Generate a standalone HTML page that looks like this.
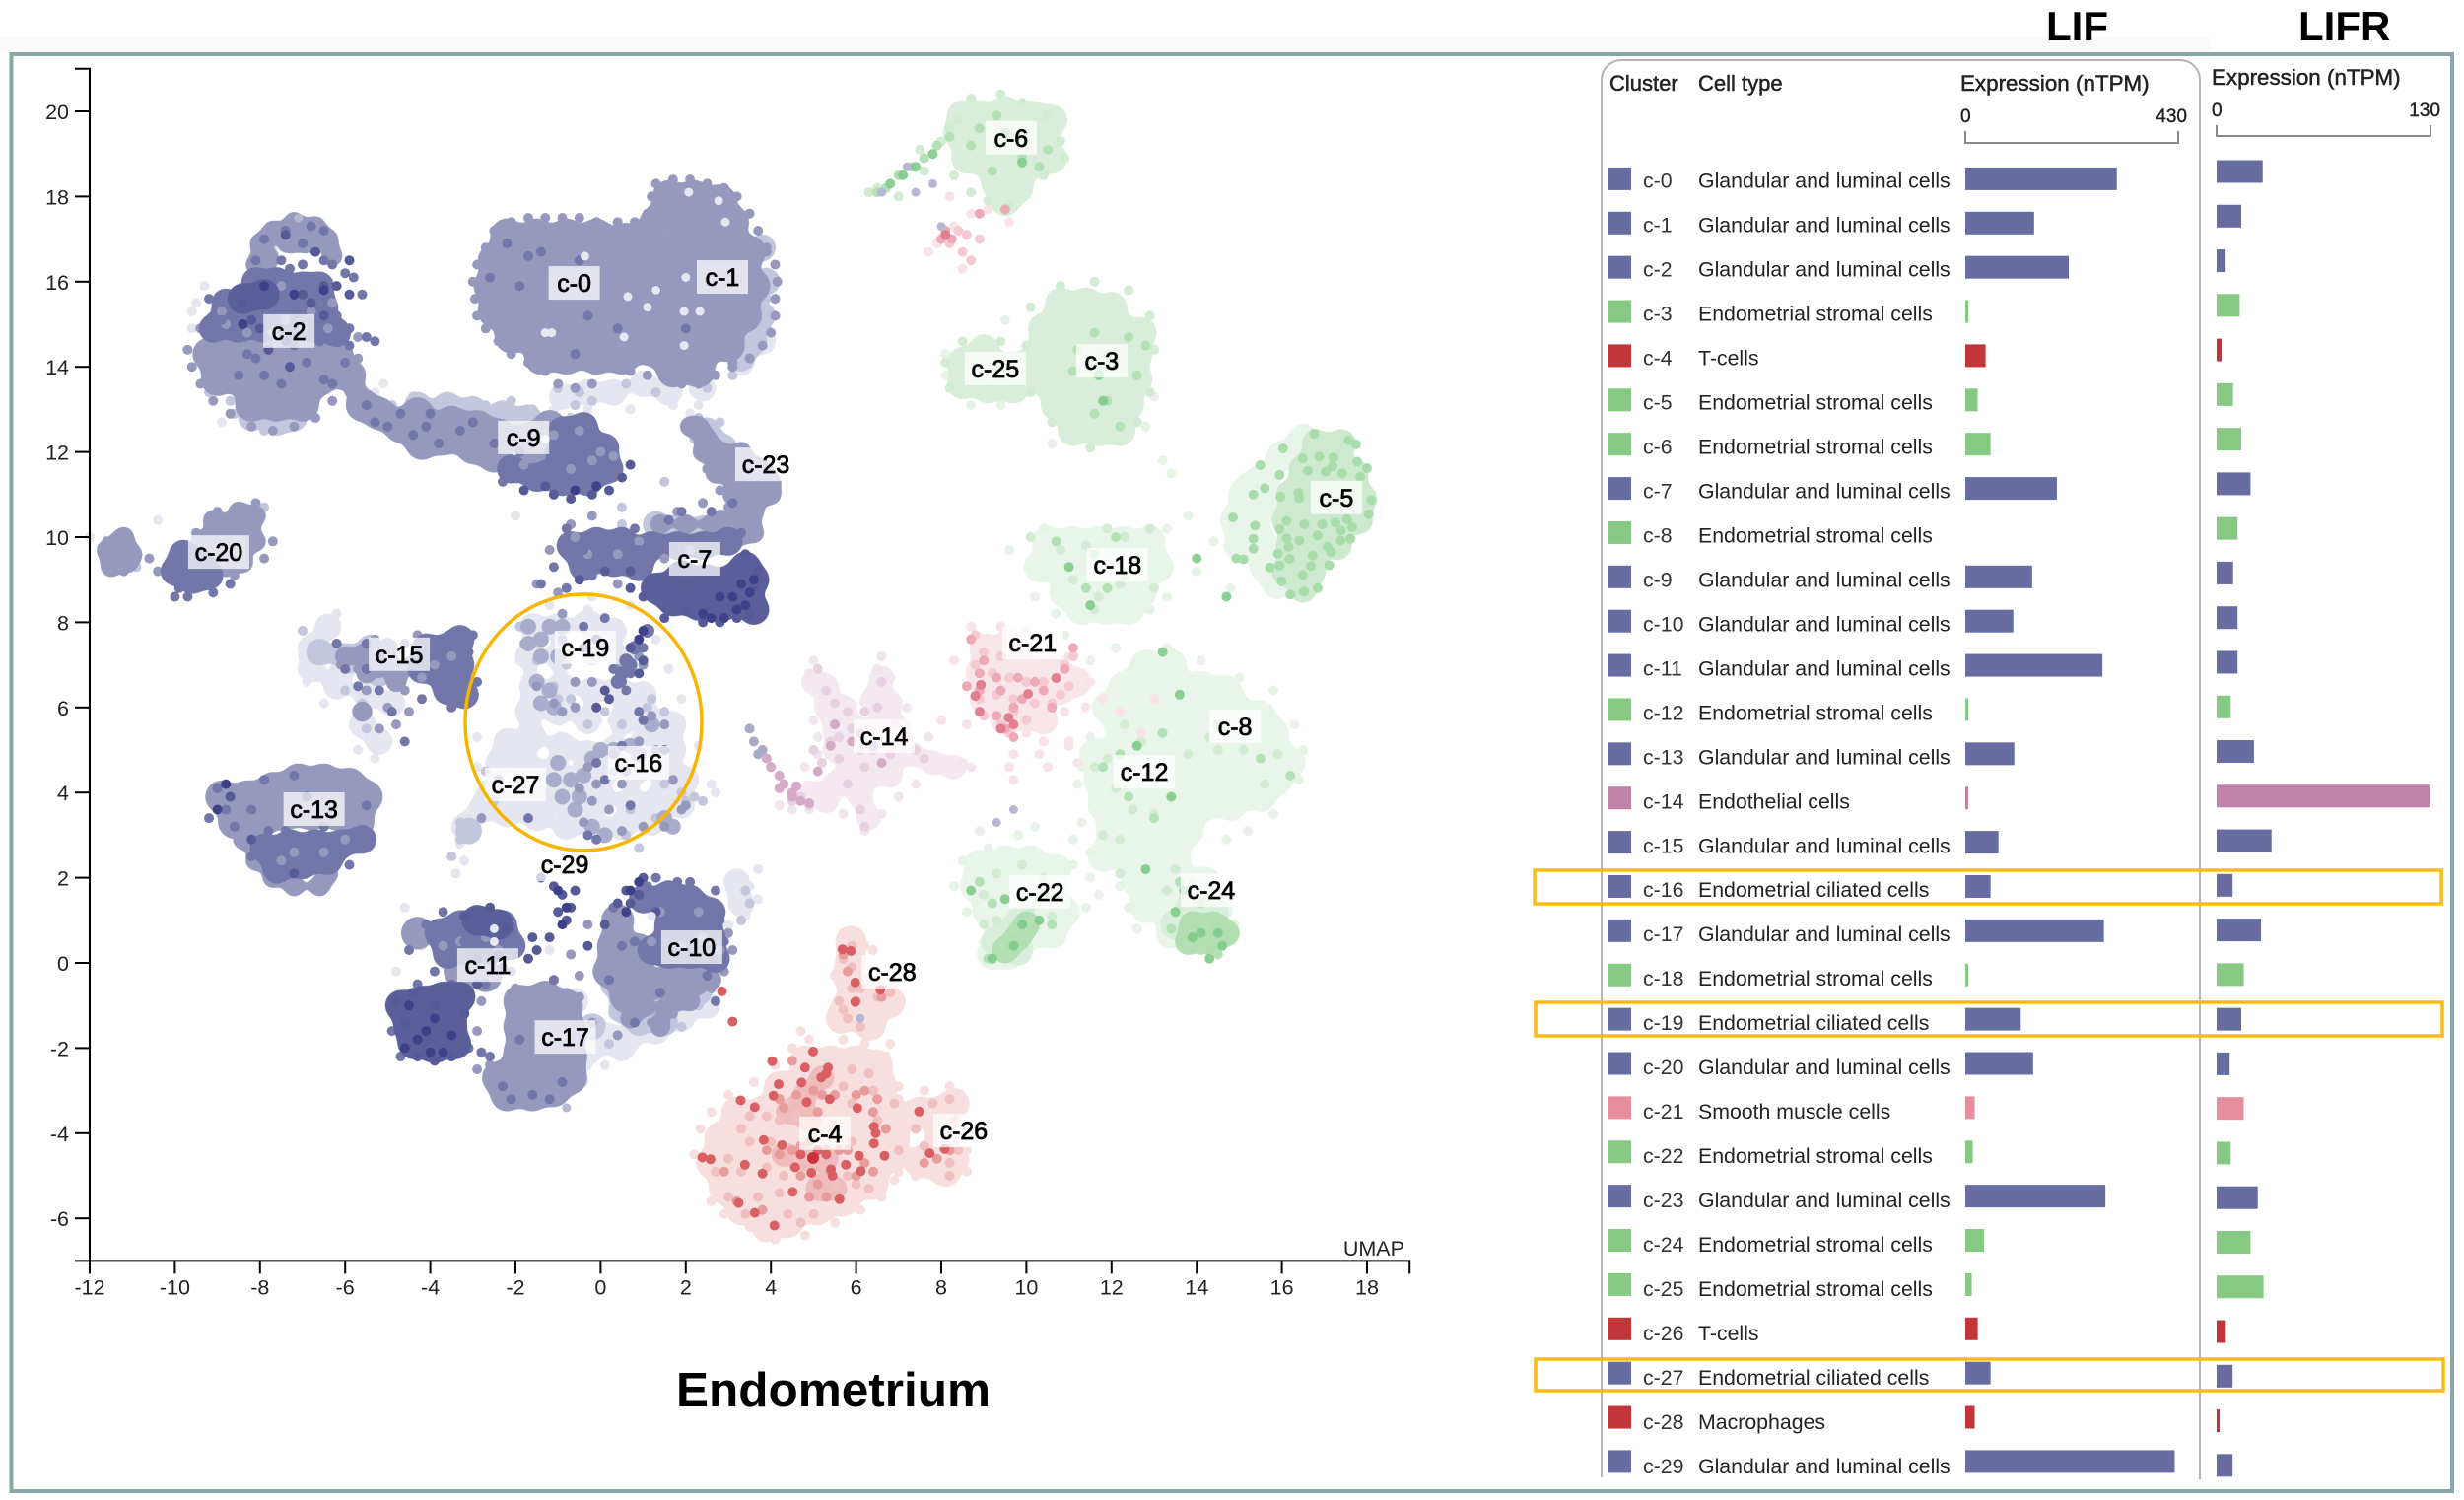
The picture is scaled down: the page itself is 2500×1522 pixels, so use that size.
<!DOCTYPE html>
<html lang="en">
<head>
<meta charset="utf-8">
<title>Endometrium UMAP with LIF and LIFR expression</title>
<style>
html,body{margin:0;padding:0;background:#fff}
svg{display:block;font-family:"Liberation Sans",Arial,sans-serif}
</style>
</head>
<body>
<svg id="root" width="2500" height="1522" viewBox="0 0 2500 1522">
  <defs>
    <filter id="merge" filterUnits="userSpaceOnUse" x="0" y="0" width="2500" height="1522" color-interpolation-filters="sRGB">
      <feGaussianBlur in="SourceGraphic" stdDeviation="5"/>
      <feColorMatrix values="1 0 0 0 0 0 1 0 0 0 0 0 1 0 0 0 0 0 18 -8"/>
    </filter>
  </defs>
  <rect x="0" y="0" width="2500" height="1522" fill="#ffffff"/>
  <rect x="0" y="38" width="2243" height="15" fill="#fafafa"/>
  <rect x="11.5" y="55" width="2476.5" height="1458" fill="none" stroke="#8ba6a6" stroke-width="4"/>
  <g id="scatter"></g>
  <g id="axes"></g>
  <g id="labels"></g>
  <ellipse cx="592" cy="733" rx="120" ry="130" fill="none" stroke="#f7b500" stroke-width="3.5"/>
  <text x="686" y="1427" font-size="49.5" font-weight="700" fill="#000">Endometrium</text>
  <text x="2076" y="41" font-size="42" font-weight="700" fill="#000">LIF</text>
  <text x="2332" y="41" font-size="42" font-weight="700" fill="#000">LIFR</text>
  <path d="M1625 1499V81a20 20 0 0 1 20-20H2212a20 20 0 0 1 20 20V1501" fill="none" stroke="#b4b4b4" stroke-width="2"/>
  <text x="1633" y="92" font-size="22" fill="#222" stroke="#222" stroke-width=".5">Cluster</text>
  <text x="1723" y="92" font-size="22" fill="#222" stroke="#222" stroke-width=".5">Cell type</text>
  <text x="1989" y="92" font-size="22.4" fill="#222" stroke="#222" stroke-width=".5">Expression (nTPM)</text>
  <text x="2244" y="86" font-size="22.4" fill="#222" stroke="#222" stroke-width=".5">Expression (nTPM)</text>
  <g id="table"></g>
  <rect x="1557" y="883" width="920" height="34" fill="none" stroke="#fdbb0e" stroke-width="3.5"/>
  <rect x="1558" y="1017" width="920" height="34" fill="none" stroke="#fdbb0e" stroke-width="3.5"/>
  <rect x="1558" y="1379" width="921" height="32" fill="none" stroke="#fdbb0e" stroke-width="3.5"/>
</svg>
<script>
/* ---------- axis values ---------- */
const xTicks = [-12,-10,-8,-6,-4,-2,0,2,4,6,8,10,12,14,16,18];
const yTicks = [20,18,16,14,12,10,8,6,4,2,0,-2,-4,-6];

/* ---------- table values ---------- */
const clusterNames = ["c-0","c-1","c-2","c-3","c-4","c-5","c-6","c-7","c-8","c-9","c-10","c-11","c-12","c-13","c-14","c-15","c-16","c-17","c-18","c-19","c-20","c-21","c-22","c-23","c-24","c-25","c-26","c-27","c-28","c-29"];
const cellTypes = ["Glandular and luminal cells","Glandular and luminal cells","Glandular and luminal cells","Endometrial stromal cells","T-cells","Endometrial stromal cells","Endometrial stromal cells","Glandular and luminal cells","Endometrial stromal cells","Glandular and luminal cells","Glandular and luminal cells","Glandular and luminal cells","Endometrial stromal cells","Glandular and luminal cells","Endothelial cells","Glandular and luminal cells","Endometrial ciliated cells","Glandular and luminal cells","Endometrial stromal cells","Endometrial ciliated cells","Glandular and luminal cells","Smooth muscle cells","Endometrial stromal cells","Glandular and luminal cells","Endometrial stromal cells","Endometrial stromal cells","T-cells","Endometrial ciliated cells","Macrophages","Glandular and luminal cells"];
const lifValues = [306,139,209,6,41,25,51,185,0,135,97,277,6,99,6,67,51,280,6,112,137,19,15,283,38,13,25,51,19,423];
const lifrValues = [28,15,5.5,14,3,10,15,20.6,12.7,10,12.7,12.7,8.6,22.7,130,33.4,9.7,27,16.5,15,7.9,16.5,8.6,25,20.6,28.5,5.6,9.7,1.8,9.7];

/* ---------- cluster label positions, UMAP units ---------- */
const labelU = [-.62,2.86,-7.32,11.77,5.27,17.28,9.64,2.21,14.9,-1.81,2.14,-2.65,12.77,-6.73,6.66,-4.73,.89,-.83,12.14,-.36,-8.97,10.15,10.32,3.88,14.34,9.27,8.53,-2,6.85,-.84];
const labelV = [15.97,16.11,14.84,14.14,-4,10.93,19.38,9.49,5.56,12.34,.37,-.05,4.49,3.61,5.32,7.25,4.7,-1.74,9.35,7.41,9.65,7.52,1.67,11.71,1.71,13.96,-3.94,4.19,-.21,2.31];

/* ---------- UMAP points: flat u,v lists ---------- */
const bluePaleCloud = [-1.6,7.9,-1,7.9,-.3,8,.3,7.8,-1.7,7.2,-1,7.2,-.2,7.3,.5,7.1,-1.6,6.5,-.9,6.5,-.2,6.4,.4,6.4,1,6.3,-1.7,5.9,-1,5.9,-.3,5.7,.5,5.7,1.2,5.7,1.7,5.6,-2.2,5.2,-1.6,5.3,-.9,5.1,-.3,4.9,.3,5,1,5.1,1.7,5,-2.4,4.7,-1.7,4.6,-1.1,4.5,-.5,4.3,.1,4.5,.8,4.5,1.5,4.5,2,4.3,-2.6,4,-1.9,4,-1.2,3.9,-.6,3.7,0,3.9,.7,3.8,1.4,3.9,1.9,3.7,-2.2,3.5,-1.5,3.4,-.8,3.2,-.2,3.3,.5,3.2,1.2,3.3,-3.2,3.2,-2.8,3.6,
-6.8,7.4,-6.4,7.9,-6.8,6.9,-6.2,6.5,-5.5,6.3,-6,7,-5.6,5.6,-5.2,5.2,-4.9,6.1,-.9,13.3,-.3,13.4,.3,13.4,1,13.6,1.6,13.4,2.4,13.5,3.3,14.1,3.8,14.6,3.2,1.9,3.3,1.4,.1,-1.7,.7,-1.7,1.3,-1.6,1.9,-1.3,.5,-2,-.2,-2,-.6,-.9,-.5,-2.3,2.5,-1];
const blueLightCloud = [3.6,14.6,3.8,15.2,3.9,16,3.8,16.8,3.3,14.2,.5,-1.1,1.1,-1,1.7,-.8,2.3,-.7,.3,-.5,.9,-1.4,1.5,-1.4,-3.1,3.1,-3.6,13.1,-3,13,-2.3,12.9,-1.7,12.8,-4.3,13.1,2.5,12.5,2.9,12.1,1.3,10.3,1.8,10.2,2.4,10.2,3,10.1,3.5,10.2,-8.2,12.8,-7.6,12.7,-7.2,12.8,-6.6,7.3,-6,7.2,-5.4,7.4,-5.2,6.8,-.2,-1.5];
const blueMainCloud = [-2.2,17.1,-1.5,17.1,-.8,17.1,-.1,17.1,.6,17,-2.5,16.5,-1.8,16.5,-1.1,16.5,-.4,16.5,.3,16.5,1,16.5,-2.6,15.9,-1.9,15.9,-1.2,15.9,-.5,15.9,.2,15.9,.9,15.9,-2.5,15.3,-1.8,15.3,-1.1,15.3,-.4,15.3,.3,15.3,1,15.3,-2.1,14.7,-1.4,14.7,-.7,14.7,0,14.7,.7,14.7,-1.4,14.2,-.8,14.2,-.1,14.2,.5,14.2,
1.6,18,2.2,18,2.8,17.9,1.3,17.4,1.9,17.4,2.5,17.4,3.1,17.4,1.2,16.8,1.8,16.8,2.4,16.8,3,16.8,3.5,16.7,1.5,16.2,2.1,16.2,2.7,16.2,3.3,16.2,3.6,15.9,1.5,15.6,2.1,15.6,2.7,15.6,3.3,15.6,1.2,15,1.8,15,2.4,15,3,15,3.4,15.2,1.2,14.4,1.8,14.4,2.4,14.4,3,14.5,1.7,13.9,2.3,13.9,
-8.2,13.1,-7.6,13.1,-7,13.1,-9,13.7,-8.4,13.7,-7.8,13.7,-7.2,13.7,-6.6,13.7,-9.2,14.3,-8.6,14.3,-8,14.3,-7.4,14.3,-6.8,14.3,-6.2,14.3,-5.9,13.8,
-5.6,13.1,-5.2,12.9,-4.7,12.6,-4.3,12.9,-4.2,12.2,-3.7,12.3,-3.5,12.7,-3,12.1,-2.9,12.6,-2.4,12.4,-2.5,11.9,-1.7,12.3,-1.2,12.6,-1.5,11.8,
-8.9,3.9,-8.3,3.9,-7.7,4.1,-7.1,4.3,-6.5,4.3,-5.9,4.2,-5.5,3.9,-8.6,3.3,-8,3.3,-7.4,3.5,-6.8,3.5,-6.2,3.5,-5.7,3.3,
-1.9,-.9,-1.3,-.8,-.8,-1,-1.9,-1.5,-1.3,-1.5,-.7,-1.6,-1.9,-2.1,-1.3,-2.2,-.7,-2.2,-2.4,-2.7,-1.8,-2.7,-1.2,-2.7,-.7,-2.7,-2.2,-3.1,-1.6,-3.1,-1.1,-3,
.4,1,.3,.4,.2,-.2,.8,-.3,.9,.3,.6,-.8,1.2,-.5,1.7,-.4,2.2,-.4,-4.3,.7,-3.3,-.2,-2.7,-.3];
const blueMainMid = [2.5,12.3,2.8,12,3,11.6,3.3,11.3,3.7,11.1,4,11,3.5,10.7,3.3,10.3,2.8,10.4,2.3,12.6,2.1,12.6,2.4,12,2.7,11.5,3.1,11,3.6,10.6,4,11.3,3.8,11.6,3.5,11.7,3.3,12,3.6,10.1,3.2,10,
-11.4,9.6,-11.1,9.4,-11.3,9.9,-11.5,9.3,-11.6,9.7,-11.2,10,-11,9.6,-9,9.8,-8.5,9.8,-8.1,9.9,-8.8,10.2,-8.3,10.3,-8.6,9.5,-8.1,10.5,-9.4,9.9,-8.8,9.3,-8.4,9.4,-9.1,10.4,-8.5,10.6,
-8.1,16.4,-8,16.9,-7.7,17.2,-7.2,17.4,-6.7,17.3,-6.4,17,-6.3,16.6,-7.8,16.5,-7.3,16.9,-6.9,16.9,
-6,7.2,-5.5,7.3,-5.5,6.8,-5,7,-4.8,6.6,-4.4,7,-5,7.4,-5.6,5.9,
-7.7,2,-7.2,1.8,-7.5,2.3,-6.6,1.8,-6.4,2.1,-8.4,2.9,-8.1,2.4,-7.9,2.7,
1,-1,1.6,-1,2.1,-.9,1.4,-1.5,.7,-1.3,2.6,-.4,
1.4,10.3,2,10.3,2.6,10.3];
const blueMainPatch = [-1,4.7,-1.1,4.3,-.7,4.3,-.9,3.9,-.5,3.9,-.6,3.6,-.4,4.4,-.2,4.8,0,5,.3,5,-1.5,6.6,-1.2,6.4,-1.4,6.1,-1.1,6,-1.7,7.9,-1.4,7.6,-1.7,7.5,-1.2,7.9,-1.4,7.2,-1,7.2,-.9,7.9,.7,5.1,.9,4.9,1.2,5.6,1.5,3.4,1.7,3.2,.1,3,-.2,3.2];
const blueDeepCloud = [-9.1,14.9,-8.5,14.9,-7.9,14.9,-7.3,14.9,-6.7,14.9,-6.2,14.8,-8.8,15.5,-8.2,15.5,-7.6,15.5,-7,15.5,-6.5,15.4,-8.1,16,-7.6,16,-7,15.9,-6.6,15.9,
-.7,9.8,-.1,9.9,.5,9.9,-.4,9.3,.3,9.4,.9,9.3,1.2,9.8,1.8,9.8,2.4,9.8,3,9.9,
-2.1,11.6,-1.5,11.4,-.9,11.3,-.3,11.3,.2,11.6,-1,11.9,-.4,12,.1,12.1,-.9,12.5,-.4,12.6,
-4.2,6.9,-3.7,6.8,-3.3,7,-3.6,7.4,-4.1,7.4,-3.3,7.6,-3.6,6.4,-3.2,6.3,
-3.8,.7,-3.3,.9,-2.8,1,-2.3,.9,-3.6,.2,-3.1,.3,-2.6,.3,-2.1,.4,
1,1.5,1.6,1.6,2.1,1.5,2.6,1.2,2.1,.9,1.6,.9,2.6,.6,1.2,.3,1.6,.2,2.1,.2,2.7,.1,
-7.9,2.7,-7.3,2.8,-6.7,2.8,-6.1,2.8,-5.6,2.9,-7.6,2.2,-7,2.3,-6.4,2.4,-10,9.2,-9.6,9,-9.2,9.1,-9.8,9.6,-9.4,9.4];
const blueDeepMid = [.5,6.8,.6,7.1,.8,7.4,.4,6.6,.7,7,1.1,7.8];
const blueOverDots = [-1.1,12.4,-.5,12.5,0,12,-1.4,11.9,-.7,11.6,-1.8,11.7,-.2,11.8,.3,11.9,-8.8,15,-8.3,14.8,-7.7,14.8,-7,14.9,-6.4,14.9,-6.8,15.3,-7.4,15.1,-6.3,15.5,-7.5,15.9,-8.9,15.3,1.2,.5,1.9,.4,2.4,.6,1.4,1.2,2.3,1.2,2.8,.3,-.3,9.6,.4,9.6,.9,9.9,1.5,9.5,2.1,9.7,-.6,10,-3.9,7,-3.5,7.2,-4.2,6.7,-7.2,2.6,-6.5,2.6,-6,2.9,-7.5,2.4,-3.3,.5,-2.7,.6,-3.7,.4,-2.4,.3];
const blueDarkCloud = [1.3,8.8,1.9,9.1,2.5,9,3.1,9,3.4,9.3,1.7,8.5,2.3,8.4,2.9,8.4,3.4,8.6,-4.7,-1,-4.2,-.9,-3.7,-.8,-3.3,-.8,-4.5,-1.5,-4,-1.5,-3.5,-1.4,-4.4,-1.9,-3.9,-2,-3.4,-1.9,-2.9,1,-2.4,.9,-8.4,15.6,-7.9,15.7,3.6,8.3,3.6,9];
const bluePaleDots = [-1.9,7.1,-1.2,8.4,-.2,8.6,.7,8.4,1.3,7.6,1.6,6.9,1.9,6.2,2.3,5.1,2.6,4.2,2.7,4,-2.9,5.3,-2.9,4.6,-3.2,2.4,-3.3,2.8,-3.4,2.1,-6.2,8.2,-7,7.2,-6.9,6.6,-6.5,6.1,-5.7,5,-5.3,4.8,-.3,8.3,3.7,2.2,3.5,1.8,3.7,1.5,3.4,1.1,3,.9,.1,-2.4,-.3,-2.4,-1.2,.3,-1.1,13,-.3,13,.7,13,1.7,13.1,2.1,12.9,2.3,13.1,-4.8,-.2,-4.2,.4,-4.6,1.3,-8.9,12.7,-9.6,14.9,-9.5,15.5,-9.3,15.9,-9.6,15.3,-5.1,13.6,-5.3,13.4,-5.2,13,-2,10.5,-12,10,-10.4,10.4,-.4,-2.8];
const blueLightDots = [-1.9,7.9,-1.8,7.5,-1.5,7.1,-.9,7.5,-.8,7,-1.1,6.5,-1,6.2,-.7,6.2,-.3,5.6,.1,5.9,.5,5.6,.9,5.2,1.1,6,1.5,5.9,1.2,6.2,.9,4.9,1.5,4.2,1.9,4,2,3.8,2.2,3.9,2.4,3.8,.3,4.5,.7,3.6,1.3,3.4,-2.7,4.5,-2.5,3.8,-3.3,3.3,-3,3,-3.3,2.9,-3.5,2.5,-.6,3.6,-.2,3.2,.6,3,.9,2.7,
-7,7.8,-6.6,7.1,-6.2,7.5,-5.9,6.9,-5.6,6.1,-5.5,5.5,-6,6.4,-5.4,7.6,3.4,1.7,3.5,1.4,3.3,1,.2,-1.9,.8,-1.5,1.3,-1.1,1.9,-1.5,2.3,-1,.3,-1.2,
3.7,16,3.9,15.6,4,15.2,3.9,14.9,3.5,14.2,3.1,13.8,2.5,13.5,1.3,13.4,.6,13.6,-.5,13.4,-1,13.5,-.6,13.1,-.2,13.2,-8.6,12.9,-7.9,12.5,-5.2,13.2,-4.9,13.1,-4.4,13.3,-2.7,13.1,-2.1,13.2,-1.6,13,-.7,12.8,-9,15.2,-9.4,14.2,-9.2,13.4,-8.7,13.2,2.3,12.8,2.2,12.3,2.8,12.7,1.5,11.3,.5,10.7,.5,10.3,1.7,10.4,-11.7,9.6,-11.5,9.2,-10.9,9.3,-11.4,10,-7.9,10.7,-8.6,10.6,-8.9,10.5];
const blueMainDots = [-2.6,16,-2.4,16.5,-2.1,17,-1.9,16.6,-1.7,17.1,-1.5,16.6,-1.3,17.3,-1.1,16.9,-.9,17.3,-.7,16.7,-2,15.9,-1.6,16.2,-1.3,16.3,-.9,16.4,-1.1,17.1,-.6,17.2,-.3,17.3,-2.5,15.7,-1.9,16.2,-.1,15.1,.1,15.5,-.9,14.4,-.3,14.1,1.6,15.2,2.3,15.3,2.9,14.9,1.8,14.6,2.4,13.9,3.1,14.1,.9,17,1.2,16.8,1.5,16.1,2.8,15.6,3.4,15.6,3.9,16.7,
-3,16,-2.95,15.6,-2.9,15.2,-2.7,14.9,-2.4,14.6,-2.1,14.3,-1.7,14.1,-1.3,13.9,-1,13.6,-.6,13.5,-.2,13.6,-2.9,16.4,-2.7,16.8,-2.5,17.2,-2.1,17.4,-1.7,17.5,-1.3,17.5,-.9,17.5,-.5,17.5,-.1,17.4,.4,17.4,.8,17.4,1.1,17.6,1.2,18,1.3,18.3,1.7,18.4,2.1,18.4,2.5,18.3,2.9,18.2,3.2,18,3.5,17.6,3.7,17.2,3.9,16.8,4.1,16.4,4.15,16,4.1,15.6,4.1,15.2,4,14.8,3.8,14.5,3.5,14.2,3.1,14,2.7,13.8,2.3,13.6,1.9,13.6,1.5,13.8,1.1,13.8,.7,13.9,
-9.7,14.4,-9.6,14,-9.4,13.6,-9.1,13.2,-8.7,12.9,-8.2,12.6,-7.7,12.5,-7.2,12.6,-6.7,12.8,-6.3,13.2,-5.9,13.4,-5.7,14.2,-5.7,14.7,-9.4,14.9,
-.9,7.6,-1.5,6.5,-1.1,6.1,-.9,5.9,-.6,6,-.6,6.6,-.2,6.6,.4,6.9,.1,7.4,.9,7.2,1,7,1.2,5.8,1.5,5.6,1.3,5,.9,5.2,.3,4.9,.5,4.2,.2,3.6,.5,3.1,1,3.2,1.5,3.2,1.9,3.6,2,3.7,-.3,4.6,-.1,4.2,-.5,4.1,-.2,3.8,-.4,3.3,-2.4,4.3,-2.8,3.4,.6,4.5,1.7,4.3,
-5.9,7.3,-6.1,7,-5.7,6.9,-5.4,7.2,-5.2,6.8,-5,7.4,-4.8,6.7,-4.6,6.4,-5.5,6.4,-5,6,-4.5,5.9,-4.8,5.6,-5.2,5.5,-5.3,7.6,-4.6,7.5,-4.3,7.7,
2.5,11.6,2.9,11.9,2.8,11.1,3.1,10.6,3.6,10.4,3.4,10.9,4,11.4,.4,8.9,1.8,10.6,2.4,10.8,3,10.7,2.9,10.4,-1.2,9.7,-.7,10.3,-.2,10.5,-1.5,8.9,-1,8.7,-.9,8.2,
-9.5,10.1,-9,10.6,-8.4,10.5,-8.1,10.8,-7.7,9.9,-7.9,9.5,-8.6,9.1,-11.4,9.4,-11.6,9.9,-11.2,9.2,-10.6,9.5,-10.4,9.2,-.3,.9,-.7,.2,-.5,-.3,-.5,-.8,-2.1,-.2,-2,-.6,-1.5,-.9,-1.1,-.4,-.8,-.7,-.2,-1.4,.4,-1.7,.9,-1.2,1.2,-1.4,1.7,-1.2,2,-.9,2.6,-.6,2.9,-.2,3.1,.3,3,.7,-3.1,-.6,-3.4,-1.2,-2.8,-.9,-2.9,-1.6,-.5,-2.1,-.5,-2.7,-2.6,-2.4,-2.9,-2.5];
const blueDeepDots = [-2.2,16.9,-1.7,16.6,-1.4,16.7,-.5,16.5,-2.6,16.1,-1.9,15.9,-.3,15.2,.4,14.9,-.6,14.3,1.3,15.8,2,14.9,
-9.2,15.6,-8.9,15.1,-8.3,14.3,-7.9,13.8,-7.2,14.5,-6.6,14.6,-6.2,15.2,-5.9,14.9,-5.9,14.5,-6,14.1,-6.3,13.6,-8.1,14.2,-7.5,13.6,-6.9,14.1,-6.5,13.7,-8.5,13.8,-6.3,16.4,-6,16.2,-5.8,16.1,-5.6,15.7,-7.9,17,-7.4,17.2,-7,16.9,-6.8,17.3,-6.5,17.2,-7.5,16.5,-7.3,16.3,-7,16.4,-6.5,16.5,-8.1,16.5,-5.5,14.7,-5.3,14.6,
-5.5,13.1,-5.3,12.7,-5,12.6,-4.7,12.9,-4.4,12.4,-4.1,12.6,-3.8,12.2,-3.3,12.5,-3,12.7,-2.5,12.2,-4,12.9,-2.3,11.3,-1.9,12,
-.8,10.2,-.4,9.7,.1,10,.8,10.2,-.2,9.1,.9,9.7,1.6,10.4,1.9,10.6,2.6,10.6,3.3,10.1,3.1,10.8,-1.1,9.3,-1.4,8.9,-.8,8.8,
-.4,7.9,-.4,7.4,.1,8.1,-.1,7.6,.3,6.9,.5,6.6,.6,6.4,.7,6.8,1,7.4,1,5.7,.5,5.1,.9,5.9,1.5,5,-.1,4.7,.1,4.3,.7,3.7,-.3,3,-.1,2.9,-1.7,3.4,
-6.2,7.5,-6,6.9,-5.5,6.9,-5.2,7.2,-5.2,6.4,-4.9,5.9,-4.6,5.2,-4.2,6.2,-3.5,6,-2.9,6.6,-3.1,7.3,-3,7.7,-5.7,6.5,-5.5,7.5,
-9,4.1,-8.8,3.6,-9.2,3.4,-8.6,3.2,-8.2,3.6,-7.9,4.3,-7.4,3.1,-7.2,4.4,-6.9,2.6,-6.5,2.2,-5.9,2.3,-5.5,3.7,-6.5,3.2,-7.6,2,-8.2,2.5,-7.8,3.1,
-9.9,8.8,-9.7,8.6,-9.5,9,-9.1,8.7,-8.7,8.9,-10,8.6,-9.4,9.6,-9.8,9.3,-10.2,9.3,
-4.9,-1,-4.3,-.5,-4.5,.3,-4.1,.9,-3.7,1.2,-3.2,.5,-2.7,-.5,-3.9,-.2,-4.9,-1.6,-4.7,-2.2,-3.1,-2,-2.6,-2.2,-3.5,-.5,-2.8,-2.1,-2.3,-.1,
-2.3,-2.9,-2.1,-3.2,-1.6,-3.1,-1.2,-3.2,-.9,-2.8,-1.1,-.4,-1.9,-1.8,
.3,1.3,.5,.4,.2,-.4,.8,.5,1.1,1.8,1.3,2,1.8,1.9,2.1,1.9,2.7,1.7,2.8,1,2.9,.5,2.5,-.3,2.7,-.9,1.4,-.7,.8,-1.4];
const blueDarkDots = [-8.4,15.5,-8.2,15.1,-8,14.9,-7.3,14,-7,15.7,-6.8,15.5,-6.5,15.9,-6.2,15.9,-5.9,15.7,-6.5,15.2,-5.9,16.5,-6.7,16.7,-7.4,17.1,-7.8,14.4,-7.4,14.6,
-1.1,11,-.7,10.9,-.2,11,.2,11.1,-1.8,11.1,-1.3,11.2,.5,11.4,.7,11.7,
2,8.3,2.4,8,2.8,8,3.2,8.1,3.5,8.2,3.6,8.8,3.7,9.2,3.4,9.6,1.5,8.1,1,8.6,.7,8.8,.1,9.2,.7,9.2,-.5,9,
.1,6.4,.9,6.8,1,7.1,.2,6.2,-.1,6,.7,7.4,
-4.8,-.9,-4.6,-1.4,-4.3,-2.2,-3.9,-2.3,-3.5,-2.2,-4.4,-.7,-3.9,-1,-3.2,-1.2,-2.9,-.5,-2.9,.1,-3.2,1.1,-2.6,1.3,-2.2,.8,-2.4,.2,-1.7,.1,-1.6,.6,
-1.4,2,-1.1,1.8,-.9,1.6,-.7,1.3,-1,1.2,-.6,1.7,-.8,1,-1.2,.6,-1.5,.3,.4,1.4,.7,1.4,1,2,.9,1.6,1.3,1.2,.6,1.7,.1,.9,-.3,.4,
-8.7,3.9,-8.2,2.9,-7.2,2.1,-6.9,3.9];
const blueDeepestDots = [2.6,8.1,2.9,8.1,3.2,8.3,3.4,8.4,3.5,8.7,3.6,9,3.1,8.6,2.8,8.6,3.3,8.9,2.4,8.2,.9,7.6,1,7.8,-4.6,-2,-4.3,-1.8,-4,-2.1,-4.1,-1.6,-3.7,-2.1,-4.5,-1,-3.9,-1.3,-3.5,-1.7,-7.9,15.9,-8.4,15,-7.2,15.7,-6.5,15.8,-1,1.7,-.8,1.3,-.9,.9,.7,1.7,.9,1.9,.6,1.2,-9,3.6,-8.8,4.2,-.6,11.1,-.1,11.2];
const blueHoleDots = [2.07,18.1,2.77,17.9,2.93,17.4,2,16.1,1.96,15.3,2.33,15.3,1.96,14.5,.64,15.65,-1.3,14.8,-1.15,14.8,-.37,16.6,.55,14.7,1.1,15.4,1.3,15.8,-1.3,12.3,-2.5,.8,-2.5,.5,1.2,1.1];

const greenFaintCloud = [12.8,7,13.4,7,12.3,6.5,12.9,6.5,13.5,6.5,14.1,6.5,14.7,6.4,11.9,6,12.5,6,13.1,6,13.7,6,14.3,6,14.9,6,15.5,5.8,12.2,5.5,12.8,5.5,13.4,5.5,14,5.5,14.6,5.5,15.2,5.5,15.8,5.4,11.6,4.9,12.2,4.9,12.8,4.9,13.4,4.9,14,4.9,14.6,4.9,15.2,4.9,15.9,4.9,16.2,4.7,11.7,4.3,12.3,4.3,12.9,4.3,13.5,4.3,14.1,4.3,14.7,4.3,15.3,4.3,15.9,4.3,11.8,3.7,12.4,3.7,13,3.7,13.6,3.7,14.2,3.7,14.8,3.7,15.5,3.9,12,3.1,12.6,3.1,13.2,3.1,13.8,3.1,11.8,2.5,12.4,2.5,13,2.5,13.5,2.5,12.6,1.9,13.1,1.9,13.7,1.9,14.2,1.9,12.8,1.3,13.4,1.3,14,1.3,14.5,1.3,13.4,.7,
10.5,9.9,11.1,9.9,11.7,9.9,12.3,9.9,12.9,9.9,10.3,9.3,10.9,9.3,11.5,9.3,12.1,9.3,12.7,9.3,13.1,9.3,10.9,8.7,11.5,8.7,12.1,8.7,12.7,8.7,11.3,8.3,11.9,8.3,12.4,8.3,
8.9,2.3,9.5,2.4,10.1,2.4,10.7,2.2,8.8,1.8,9.4,1.8,10,1.8,10.6,1.7,9.1,1.2,9.7,1.2,10.3,1.2,10.9,1.2,9.4,.7,10,.6,10.6,.7,9.2,.2,9.6,.2,
15.1,11,15.6,11.4,16,11.9,14.9,10.4,15.4,10.5,15.7,10.9,15,9.8,15.5,9.9,15.9,9.5,15.6,9.3,15.3,11.2,15.9,8.9,16.5,12.3];
const greenPaleCloud = [8.9,19.9,9.5,20,10.1,19.9,8.7,19.3,9.3,19.4,9.9,19.3,10.4,19.3,9.1,18.8,9.7,18.8,10.2,18.8,9.3,18.3,9.8,18.2,8.4,19.5,10.6,19.8,10.6,18.9,8.6,18.9,9.5,17.9,8.5,19.9,
10.8,15.5,11.4,15.5,12,15.4,10.4,14.9,11,14.9,11.6,14.9,12.2,14.9,12.7,14.8,10.3,14.3,10.9,14.3,11.5,14.3,12.1,14.3,12.6,14.3,10.4,13.7,11,13.7,11.6,13.7,12.2,13.7,12.6,13.7,10.7,13.1,11.3,13.1,11.9,13.1,12.4,13.1,11.1,12.5,11.7,12.5,12.2,12.5,
8.5,14.1,9.1,14.1,9.7,14,8.5,13.6,9.1,13.5,9.7,13.5,9,14.4,
9.6,.7,9.9,1,13.5,.9,14,.8,9.3,.5,9.8,.3,13.9,1.4,14.4,1.2];
const greenC5Cloud = [16.8,12.2,17.4,12.2,16.5,11.6,17.1,11.6,17.7,11.5,16.2,11,16.8,11,17.4,11,17.9,10.9,16.1,10.4,16.7,10.4,17.3,10.4,17.8,10.4,16.2,9.8,16.8,9.8,17.3,9.8,16.1,9.2,16.7,9.2,16.5,8.8];
const greenC5Dots = [16.76,12.43,17.57,12.27,17.74,12.18,16.03,12.08,16.49,11.85,16.88,11.89,17.21,11.87,15.49,11.69,17.77,11.77,18,11.62,16.61,11.56,17.03,11.54,17.19,11.66,17.42,11.5,17.84,11.42,15.95,11.46,15.33,11,15.6,11.15,15.97,10.95,16.39,11.04,16.41,10.92,18.1,10.87,18.04,10.54,14.85,10.46,15.37,10.27,15.95,10.19,16.11,10.38,16.53,10.3,16.95,10.3,17.26,10.34,17.53,10.42,17.65,10.23,15.33,9.96,15.33,9.73,16.11,9.97,16.41,9.92,16.84,10.04,17.39,10.15,17.61,9.96,17.38,9.92,16.16,9.77,17.07,9.77,15.91,9.61,16.18,9.49,16.72,9.57,17.15,9.65,17.11,9.34,15.72,9.29,15.95,9.33,16.68,9.32,14.93,9.5,15.1,9.48,16.49,9.11,15.99,8.96,16.84,8.8,16.52,8.72,16.2,8.65];
const greenMidCloud = [13.9,.9,14.4,.9,13.8,.5,14.3,.5,14.7,.7,9.5,.3,9.8,.6,10,.9];
const greenFaintDots = [13.4,7.3,14.1,7.1,15,6.7,15.8,6.4,16.3,5.6,16.5,5,16.4,4.3,15.8,3.5,15.2,3.1,14.7,2.9,11.5,5.3,11.3,4.6,11.2,4.2,11.3,3.3,11.5,2.6,11.1,2.3,11.1,2.9,11,1.4,11.4,1.3,11.7,1.6,12.2,1.8,12.4,1.3,12.6,.8,14.9,.9,10.4,10.2,13.3,10.2,9.6,9.7,10.2,8.6,10.7,8.2,13.3,8.6,12.9,8.3,8.3,1.8,8.5,2.4,9.1,2.7,8.6,1.2,9,.5,9.1,0,11.5,2,10.2,3.2,9.8,3,8.9,3.1,10.6,12.2,9.5,15.1,8.1,14.3,8.1,13.8,8.7,13.1,9.4,13.1,13,13.3,12.8,12.6,13.2,11.8,13.4,11.5,13.8,10.5,14.4,9.9,14,9.2,14.8,8.8,13.3,7.4,12.1,7.4,11.5,7.1,10.9,7.7];
const greenPaleDots = [8.2,19.6,8,19.3,7.5,19.1,8.4,19.8,8.7,20.3,9.4,20.4,9.9,20.2,10.5,19.9,10.8,19.3,10.9,18.9,10.4,18.5,9.1,17.9,9.6,17.8,6.3,18.1,6.5,18.2,7,18,7.6,18.6,8.3,18.5,8.7,18.1,
10.1,15.4,10.8,15.9,11.6,16,12.4,15.8,12.9,15.2,13,14.4,12.9,13.4,12.6,12.7,11.5,12.1,10.6,12.7,10.1,13.4,8.2,13.5,8.1,14.1,8.5,14.6,9.4,14.6,10,14.5,
10.1,10,11.9,10.2,12.3,10,12.9,10.2,10.8,9.7,11.4,9.8,12.6,9.5,13,8.8,11.1,9,11.7,8.6,12.2,8.9,11.6,8.3,
11.6,4.6,11.9,4.8,12.3,5.6,12.7,5.2,13.8,4.9,14.3,5.3,14.5,5,15.1,5,15.6,4.2,15.9,4.9,12.1,4.1,12.5,3.6,13,3.5,11.8,3,12.2,2.9,12.8,2.2,12.2,2.1,13.5,2.2,13.9,1.9,13.3,1.7,
9,1.6,9.3,2.1,9.9,2.3,10.4,2,10.8,1.8,9.3,1,10.1,1.3,10.6,1.1,9.7,.9,9,.9];
const greenMidDots = [8.2,19.4,7.9,19.2,7.6,18.9,7.3,18.7,7,18.5,6.7,18.2,6.5,18.1,9.3,19.9,9.6,19.4,8.9,19.6,9.9,18.9,10.3,18.7,8.7,19.2,9.2,18.6,10.5,19.1,
11.6,14.8,11.9,14.3,11.2,14.4,11.1,13.9,12.4,14.7,11.9,13.2,12.6,13.8,11.6,12.9,12.2,12.6,12.8,14.5,
12.1,10,11.6,9.6,10.7,9.9,11.4,8.8,12.3,9.1,11.9,8.8,
12.2,4.9,11.8,4.6,12.4,3.9,13,3.4,13.2,5.4,14.5,5.6,15.5,4.8,16.2,4.4,
10.4,1.6,10.1,1,9.7,.8,9.4,.4,9.1,.1,9.9,.6,10.6,.9,8.9,1.9,9.2,1.4,13.6,1.9,14.1,1.4,13.4,.8,13.8,.4,14.1,.3,14.5,.2,14.7,.9,14.2,.9];
const greenStrongDots = [7.8,19,7.4,18.7,7.1,18.5,6.8,18.3,9.5,19.5,9.9,18.8,11.7,13.8,11.8,13.2,13.2,7.3,13.6,6.3,13.4,3.9,12.6,5.1,11,9.3,11.5,8.4,14.7,8.6,14,9.5,14.1,.7,14.3,.1,14.6,.4,13.9,.6,14.5,.7,13.7,1.7,9.7,.4,9.9,.9,9.5,1.5,10.3,1,8.7,1.7,9.2,.1,12.8,2.2,13.5,1.2];

const redFaintCloud = [4.8,-2.3,5.4,-2.3,6,-2.3,6.5,-2.4,4.2,-2.9,4.8,-2.9,5.4,-2.9,6,-2.9,6.6,-2.9,3.2,-3.5,3.8,-3.5,4.4,-3.5,5,-3.5,5.6,-3.5,6.2,-3.5,6.8,-3.5,2.8,-4.1,3.4,-4.1,4,-4.1,4.6,-4.1,5.2,-4.1,5.8,-4.1,6.4,-4.1,6.9,-4.1,2.6,-4.7,3.2,-4.7,3.8,-4.7,4.4,-4.7,5,-4.7,5.6,-4.7,6.2,-4.7,6.7,-4.6,2.9,-5.3,3.5,-5.3,4.1,-5.3,4.7,-5.3,5.3,-5.3,5.9,-5.3,6.4,-5.2,3.3,-5.8,3.9,-5.8,4.5,-5.8,5.1,-5.8,5.7,-5.6,3.9,-6.2,4.4,-6.1,
7.5,-3.5,8,-3.5,8.3,-3.3,8,-4,7.8,-4.5,8.3,-4.6,8.1,-4.9,7.5,-4.7,
5.88,.51,5.88,.09,5.8,-.3,6,-.6,6.34,-.73,6.8,-.92,5.8,-1,5.65,-1.3,6.2,-1.23,6.34,-1.46];
const redMidCloud = [4.8,-4.6,5.3,-4.6,4.3,-4.5,5.5,-5.3,5.1,-5.3,5.2,-2.7,4.8,-3.1,4.4,-3.5,4.9,-3.7];
const redPaleDots = [2.2,-4.5,2.35,-3.9,2.6,-3.5,3,-3.1,3.6,-2.8,4.1,-2.4,4.5,-2,4.9,-1.8,5.7,-1.8,6.2,-1.9,6.7,-2.2,7,-2.9,7,-3.2,7.1,-3.5,7.2,-3.9,7.3,-4.6,6.9,-5.1,6.6,-5.5,6.1,-5.8,5.5,-6.1,4.8,-6.4,4.1,-6.5,3.5,-6.2,2.9,-5.9,2.6,-5.6,7,-4.9,6.2,-1.2,6.6,-1.4,6.9,-1,5.6,-1.5,5.5,-.3,5.7,.7,6.2,.4,6.4,.3,6.5,-.4,6.9,-.5,4.7,-1.6,6.8,-1.9,
8.6,-4.4,8.6,-4.9,8,-5.1,7.4,-5,7.6,-3,8.4,-3.1,8.2,-2.9];
const redLightDots = [3.5,-3.6,3.3,-3.9,3.5,-4.2,3.9,-3.6,4.4,-3.3,4.2,-3.7,4.6,-3.6,5.7,-2.9,5.9,-2.5,6.3,-2.6,6.4,-3,5.9,-3.3,5.5,-3.8,4,-4.2,3.9,-4.8,4.3,-5,4.6,-4.6,3.3,-4.9,3,-4.6,2.7,-4.9,3,-5.5,3.4,-5.9,3.7,-5.5,4.2,-5.4,4.4,-5.9,4.7,-6.1,5,-5.9,5.2,-5.5,5.5,-5.2,5.8,-5,6,-5.2,6.3,-5.3,5.9,-4.2,5.5,-4,6.5,-3.7,6.7,-3.9,6.9,-3.3,7,-4.4,7.4,-3.9,7.8,-3.3,8.2,-3.2,8.3,-3.7,7.6,-4.3,8.2,-4.7,8.4,-4.4,8.2,-5,
5.7,.1,5.9,.4,5.9,-.1,5.7,-1.1,5.6,-.9,5.9,-.6,5.8,-1.3,6.1,-1.5,6.8,-.7,6.5,-.8,6.1,-.6];
const redMidDots = [4.5,-2.3,4.2,-3.2,4.6,-3.1,5,-3,5.2,-3.1,5.5,-3.1,5.1,-3.5,4.3,-3.4,6,-3.1,6.2,-3,6.4,-3.5,4.7,-4.3,4.9,-4.2,5.3,-4.4,5.6,-4.4,4.5,-4.4,4.2,-4.5,3.9,-4.4,5.1,-5.2,5.3,-5.5,4.9,-5.5,5.4,-4.9,4.7,-5,5.8,-4.4,6.5,-3.2,6.2,-4.7,6,-5,6.4,-4.9,6.7,-3.9,3.8,-5.8,3.2,-5.6,2.9,-4.9,7.9,-4.6,7.6,-4.7,8.2,-4.4,5.7,.2,5.8,-.2,6,-.9,6.6,-.8];
const redStrongDots = [4.99,-2.08,5.34,-2.46,5.18,-2.69,4.8,-2.46,4.72,-2.81,4.18,-2.85,4.03,-2.31,3.29,-3.23,4.06,-3.12,3.62,-3.39,4.84,-3.27,5.38,-3.2,6.03,-3.41,6.42,-3.85,6.46,-4,6.42,-4.24,6.07,-4.53,6.67,-4.53,7.48,-3.49,8.08,-4.37,7.73,-4.47,3.83,-4.16,4.26,-4.28,4.57,-4.8,4.95,-4.93,5.45,-5,5.41,-4.85,5.76,-4.74,6.11,-4.89,3.39,-4.74,3.8,-4.95,2.39,-4.57,2.58,-4.61,4.51,-5.38,5.61,-5.55,3.24,-5.64,3.62,-5.87,4.08,-6.17,5.68,.32,5.88,.28,5.98,-.46,5.98,-.92,6.57,-.63,2.85,-.67,3.1,-1.38,5.1,-4.4,5.3,-2.6,4.7,-4.5,5.3,-4.5];
const redDeepDots = [4.99,-4.58];

const rosePaleCloud = [9,7.4,9.6,7.5,8.9,6.8,9.5,6.8,10.1,6.9,10.7,6.9,9,6.2,9.6,6.2,10.2,6.3,10.8,6.4,9.9,5.8,10.4,5.7,11.2,6.6,9.5,5.7];
const rosePaleDots = [8.3,7.1,8.7,7.9,9.4,7.9,10,7.8,10.6,7.6,11,7.2,11.5,6.6,11.8,6.2,12.2,5.9,11.4,6,10.9,5.9,11,5.2,10.4,5.2,10,5.4,9.7,4.9,9.6,4.6,9.7,4.3,8.6,5.6,8,5.7,10.3,4.9,10.5,4.6,11,5.1,11.2,4.7,12.7,5.4,13,6.2,
8.2,18,8.7,17.6,8.3,17.3,9.1,17.7,9.6,17.4,7.7,16.7,8.5,16.3,7.9,16.9];
const roseLightDots = [8.8,7.7,9,7.3,9.4,7.2,8.8,7,9.2,6.8,9.6,6.7,10,6.6,10.4,6.6,10.8,6.3,11,6.5,8.9,6.2,9.3,6.3,9.7,6.2,10.2,6.1,10.6,6.1,9,5.8,9.4,5.6,9.7,5.9,10,5.7,9.6,5.4,11.1,7.2,10.9,7,8.4,17.2,8.6,17.1,8.2,16.9,8.5,16.7,8.9,17,8.7,16.5];
const roseMidDots = [8.7,7.6,9,7.1,8.9,6.8,9.3,6.7,8.9,6.4,9.4,6.4,9.8,6.7,10.2,6.6,9.7,6,9.9,6.2,10.4,6.4,10.6,6,9.3,5.8,9.5,5.5,9.7,5.3,10.9,6.9,8.6,6.5,11.1,7.4,8.1,17.2,8,17,8.25,17,8.9,17.6,9.5,17.7];
const roseStrongDots = [8.8,6.27,10.7,6.69,8.93,6.53,10.04,6.32,9.58,5.76,9.4,5.5,9.7,5.6,8.9,5.9,8.1,17.1];

const mauveFaintCloud = [6,5,6.5,5,7,5,5.5,5,5.5,5.5,6,5.5,6.6,5.6,7,5.5,5.3,6,5.7,6,6.4,6.2,6.8,6.1,5,6.6,5.3,6.5,6.6,6.7,7.3,4.9,7.8,4.7,8.3,4.6,5.8,4.4,6.3,4.4,6.8,4.4,5.5,4.2,6.1,3.9,6.3,3.4,5.3,3.8,4.9,4];
const mauveFaintDots = [5,7.1,4.9,6.8,6.6,7.2,6.5,6.9,6.8,6.7,7.2,6,7.7,5.3,8.7,4.6,8.5,4.7,7.4,4.2,7,3.9,6.6,3.5,6.2,3.1,5.7,3.5,4.9,3.6,4.5,3.6,4.2,3.7,5.1,5.3,5,5.7,4.8,4.6,5.1,4.9];
const mauveLightDots = [5.1,6.9,5.3,6.4,5.5,6.1,5.8,5.9,6.2,5.9,6.5,6,6.6,6.6,6.9,5.6,7.2,5.3,7.4,5,7.6,4.8,6.1,5,6.4,5,6.8,4.9,5.6,4.8,5.2,4.7,5.4,5.2,5,5,5.8,4.2,6.1,3.6,6.2,3.2,4.7,3.9,4.5,3.8,4.9,3.7,5.6,5.3,5.9,5.5,6.2,4.6];
const mauveMidDots = [3.9,4.8,4,4.6,4.2,4.4,4.3,4.2,4.5,4,4.7,3.8,4.5,3.9,4.9,3.75,4.2,4.1,4.6,4.15,5.5,5.6,5.4,5.1,5.9,5.2,6.6,4.7,5.1,4.5,6.1,5.4];
const mauveDusk = [3.5,5.5,3.6,5.2,3.8,5,3.7,4.9,6.4,5.1];
const strayBlueDots = [6.6,18.1,7.2,18.7,7.4,18.1,8,17.3,7.8,18.3,9.7,3.6,9.3,3.3,-7.1,17.5,6.1,-1.3,-.8,-3.4];

/* colour + radius per layer, painted in this order; the last flag merges overlapping circles */
const layers = [
  [greenFaintCloud,'#e9f5ea',16,1,'stromal-cell-haze',true],
  [greenFaintDots,'#e6f3e6',5,1,'stromal-cell-point',false],
  [greenPaleCloud,'#d9eeda',16,1,'stromal-cell-haze',true],
  [greenPaleDots,'#d2ebd3',5,1,'stromal-cell-point',false],
  [greenC5Cloud,'#cde9ce',15,1,'stromal-cell-haze',true],
  [greenMidCloud,'#b1dfb3',14,1,'stromal-cell-haze',true],
  [greenMidDots,'#b4e0b5',5,1,'stromal-cell-point',false],
  [greenC5Dots,'#a9dcab',5,1,'stromal-cell-point',false],
  [greenStrongDots,'#7fcb88',5,.9,'stromal-cell-point',false],
  [rosePaleCloud,'#f9e6ea',15,1,'smooth-muscle-haze',true],
  [rosePaleDots,'#f9e3e8',5,1,'smooth-muscle-point',false],
  [roseLightDots,'#f5c9d1',5,1,'smooth-muscle-point',false],
  [roseMidDots,'#eda9b5',5,1,'smooth-muscle-point',false],
  [roseStrongDots,'#e27d8e',5,1,'smooth-muscle-point',false],
  [mauveFaintCloud,'#f4e9f0',13,1,'endothelial-haze',true],
  [mauveFaintDots,'#f2e6ee',5,1,'endothelial-point',false],
  [mauveLightDots,'#e8d0e0',5,1,'endothelial-point',false],
  [mauveMidDots,'#d5aac6',5,1,'endothelial-point',false],
  [mauveDusk,'#a9a9c8',5,1,'endothelial-point',false],
  [redFaintCloud,'#f8dfdf',16,1,'immune-cell-haze',true],
  [redPaleDots,'#f8dfdf',5,1,'immune-cell-point',false],
  [redMidCloud,'#efbcbc',13,1,'immune-cell-haze',true],
  [redLightDots,'#f0c0c0',5,1,'immune-cell-point',false],
  [redMidDots,'#e89b9b',5,1,'immune-cell-point',false],
  [redStrongDots,'#d95f63',5,1,'immune-cell-point',false],
  [redDeepDots,'#cc3038',6,1,'immune-cell-point',false],
  [bluePaleCloud,'#e5e6f0',14,1,'epithelial-haze',true],
  [bluePaleDots,'#e5e6f0',5,1,'epithelial-point',false],
  [blueLightCloud,'#c3c6dc',14,1,'epithelial-haze',true],
  [blueLightDots,'#c3c6dc',5,1,'epithelial-point',false],
  [blueMainCloud,'#9699bd',17,1,'epithelial-haze',true],
  [blueMainMid,'#9699bd',11,1,'epithelial-haze',true],
  [blueMainPatch,'#a9acca',8,1,'epithelial-point',false],
  [blueMainDots,'#9699bd',5,1,'epithelial-point',false],
  [blueDeepCloud,'#7276a8',15,1,'epithelial-haze',true],
  [blueOverDots,'#9699bd',5,1,'epithelial-point',false],
  [blueDeepMid,'#7276a8',7,1,'epithelial-point',false],
  [blueDeepDots,'#7276a8',5,1,'epithelial-point',false],
  [blueDarkCloud,'#5a5f9b',16,1,'epithelial-haze',true],
  [blueDarkDots,'#565b98',5,1,'epithelial-point',false],
  [blueDeepestDots,'#3d4288',5,1,'epithelial-point',false],
  [blueHoleDots,'#e6e7f1',4.5,1,'epithelial-point',false],
  [strayBlueDots,'#b5b8d2',4.5,1,'stray-point',false]
];

/* ---------- scales ---------- */
const svg = document.getElementById('root');
const NS = svg.namespaceURI;
const xScale = u => 609.4 + 43.2 * u;
const yScale = v => 977 - 43.2 * v;
const lifScale = n => n * 216 / 430;
const lifrScale = n => n * 217 / 130;
const lifRowCentre = i => 181.4 + 44.88 * i;
const lifrRowCentre = i => 174 + 45.27 * i;
const rowBaseline = i => 190.7 + 44.97 * i;
const typeColour = {
  "Glandular and luminal cells":"#676da0",
  "Endometrial ciliated cells":"#676da0",
  "Endometrial stromal cells":"#85c982",
  "T-cells":"#c2363a",
  "Macrophages":"#c2363a",
  "Endothelial cells":"#c182a7",
  "Smooth muscle cells":"#e78e9c"
};

function make(tag, parent, attrs, text){
  const el = document.createElementNS(NS, tag);
  for (const k in attrs) el.setAttribute(k, attrs[k]);
  if (text !== undefined) el.textContent = text;
  parent.appendChild(el);
  return el;
}

/* ---------- scatter ---------- */
const scatter = document.getElementById('scatter');
layers.forEach(layer => {
  const pts = layer[0];
  const g = make('g', scatter, {fill: layer[1], 'fill-opacity': layer[3]});
  if (layer[5]) g.setAttribute('filter', 'url(#merge)');
  
  
  for (let i = 0; i < pts.length; i += 2) {
    const c = make('circle', g, {cx: xScale(pts[i]).toFixed(1), cy: yScale(pts[i+1]).toFixed(1), r: layer[2]});
    
    
  }
});

/* ---------- axes ---------- */
const axes = document.getElementById('axes');
const axisStyle = {stroke:'#000','stroke-width':2,fill:'none'};
const xAxisLine = make('path', axes, Object.assign({d:`M76 ${yScale(-7)}H${xScale(19)}V${yScale(-7)+13}`}, axisStyle));


const yAxisLine = make('path', axes, Object.assign({d:`M76 ${yScale(21)}H${xScale(-12)}V${yScale(-7)}`}, axisStyle));


xTicks.forEach(t => {
  const x = xScale(t), y = yScale(-7);
  const tick = make('line', axes, Object.assign({x1:x,x2:x,y1:y,y2:y+13}, axisStyle));
  
  
  const lab = make('text', axes, {x:x, y:y+34, 'text-anchor':'middle', 'font-size':21.5, fill:'#222'}, String(t));
  
  
});
yTicks.forEach(t => {
  const y = yScale(t), x = xScale(-12);
  const tick = make('line', axes, Object.assign({x1:x-15,x2:x,y1:y,y2:y}, axisStyle));
  
  
  const lab = make('text', axes, {x:70, y:y+8, 'text-anchor':'end', 'font-size':21.5, fill:'#222'}, String(t));
  
  
});
const umapTitle = make('text', axes, {x:1425, y:1274, 'text-anchor':'end', 'font-size':21.5, fill:'#222'}, 'UMAP');



/* ---------- cluster labels ---------- */
const labelsGroup = document.getElementById('labels');
clusterNames.forEach((name, i) => {
  const x = xScale(labelU[i]), y = yScale(labelV[i]);
  const w = name.length > 3 ? 62 : 52;
  const box = make('rect', labelsGroup, {x:x-w/2, y:y-17, width:w, height:34, fill:'#fff', 'fill-opacity':.72});
  
  
  const t = make('text', labelsGroup, {x:x, y:y+9, 'text-anchor':'middle', 'font-size':25, fill:'#000', stroke:'#000', 'stroke-width':.8}, name);
  
  
});

/* ---------- table ---------- */
const table = document.getElementById('table');
const scaleLabels = [['0',1989,124,'start'],['430',2219,124,'end'],['0',2244,118,'start'],['130',2476,118,'end']];
scaleLabels.forEach(s => {
  const t = make('text', table, {x:s[1], y:s[2], 'text-anchor':s[3], 'font-size':19, fill:'#222', stroke:'#222', 'stroke-width':.4}, s[0]);
  
  
});
const lifBracket = make('path', table, {d:`M1994 133V145H${1994+lifScale(430)}V133`, fill:'none', stroke:'#888', 'stroke-width':2});


const lifrBracket = make('path', table, {d:`M2249 127V138H${2249+lifrScale(130)}V127`, fill:'none', stroke:'#888', 'stroke-width':2});



clusterNames.forEach((name, i) => {
  const colour = typeColour[cellTypes[i]];
  const swatch = make('rect', table, {x:1632, y:lifRowCentre(i)-11.5, width:23, height:23, fill:colour});
  
  
  const idText = make('text', table, {x:1667, y:rowBaseline(i), 'font-size':21.3, fill:'#333'}, name);
  
  
  const typeText = make('text', table, {x:1723, y:rowBaseline(i), 'font-size':21.3, fill:'#222'}, cellTypes[i]);
  
  
  if (lifValues[i] > 0) {
    const lifBar = make('rect', table, {x:1994, y:lifRowCentre(i)-11.5, width:lifScale(lifValues[i]), height:23, fill:colour});
    
    
  }
  const lifrBar = make('rect', table, {x:2249, y:lifrRowCentre(i)-11.5, width:lifrScale(lifrValues[i]), height:23, fill:colour});
  
  
});
</script>
</body>
</html>
